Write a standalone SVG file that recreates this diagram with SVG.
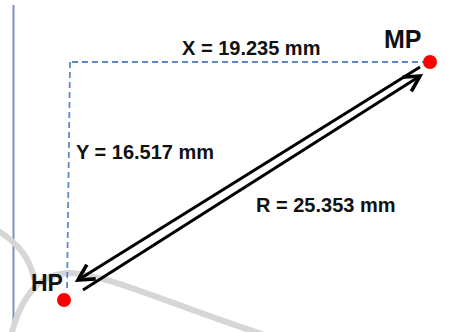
<svg xmlns="http://www.w3.org/2000/svg" width="459" height="332" viewBox="0 0 459 332">
  <style>
    .lbl { font-family: "Liberation Sans", Arial, sans-serif; font-weight: bold; fill: #111; }
    .dim { font-size: 20px; }
    .pt { font-size: 23px; }
    .dash { fill: none; stroke: #5f87c4; stroke-width: 1.8; stroke-dasharray: 6 4; }
    .arrow { fill: none; stroke: #000; stroke-width: 3; marker-end: url(#head); }
    .bg { fill: none; stroke: #d6d6d6; stroke-width: 6; stroke-linecap: round; }
    .dot { fill: #ff0000; }
  </style>
  <defs>
    <marker id="head" markerUnits="userSpaceOnUse" markerWidth="24" markerHeight="24" refX="0" refY="0" viewBox="-16 -10 20 20" orient="auto" overflow="visible">
      <path d="M-13,-7 L0,0 L-13,7" fill="none" stroke="#000" stroke-width="3" stroke-linejoin="miter"/>
    </marker>
  </defs>
  <rect width="459" height="332" fill="#fff"/>
  <g id="background">
    <line x1="13.5" y1="5" x2="13.5" y2="332" stroke="#7b91b9" stroke-width="2"/>
    <path class="bg" d="M0,232 Q28,250 34,278"/>
    <path class="bg" d="M12,332 Q28,273 70,273 C110,275 180,308 262,334"/>
  </g>
  <g id="connectors">
    <path id="dim-x" class="dash" d="M428,62 L70,62"/>
    <path id="dim-y" class="dash" d="M70,62 L67,292"/>
    <path id="r-to-hp" class="arrow" d="M420,67 L78,280"/>
    <path id="r-to-mp" class="arrow" d="M83,290 L420,76"/>
  </g>
  <g id="node-mp">
    <circle class="dot" cx="430" cy="62" r="7"/>
    <text class="lbl" x="384" y="48" font-size="25">MP</text>
  </g>
  <g id="node-hp">
    <circle class="dot" cx="64" cy="300" r="7"/>
    <text class="lbl pt" x="31" y="291">HP</text>
  </g>
  <g id="label-x">
    <text class="lbl dim" x="182" y="55">X = 19.235 mm</text>
  </g>
  <g id="label-y">
    <text class="lbl dim" x="76" y="159">Y = 16.517 mm</text>
  </g>
  <g id="label-r">
    <text class="lbl dim" x="256" y="212">R = 25.353 mm</text>
  </g>
</svg>
